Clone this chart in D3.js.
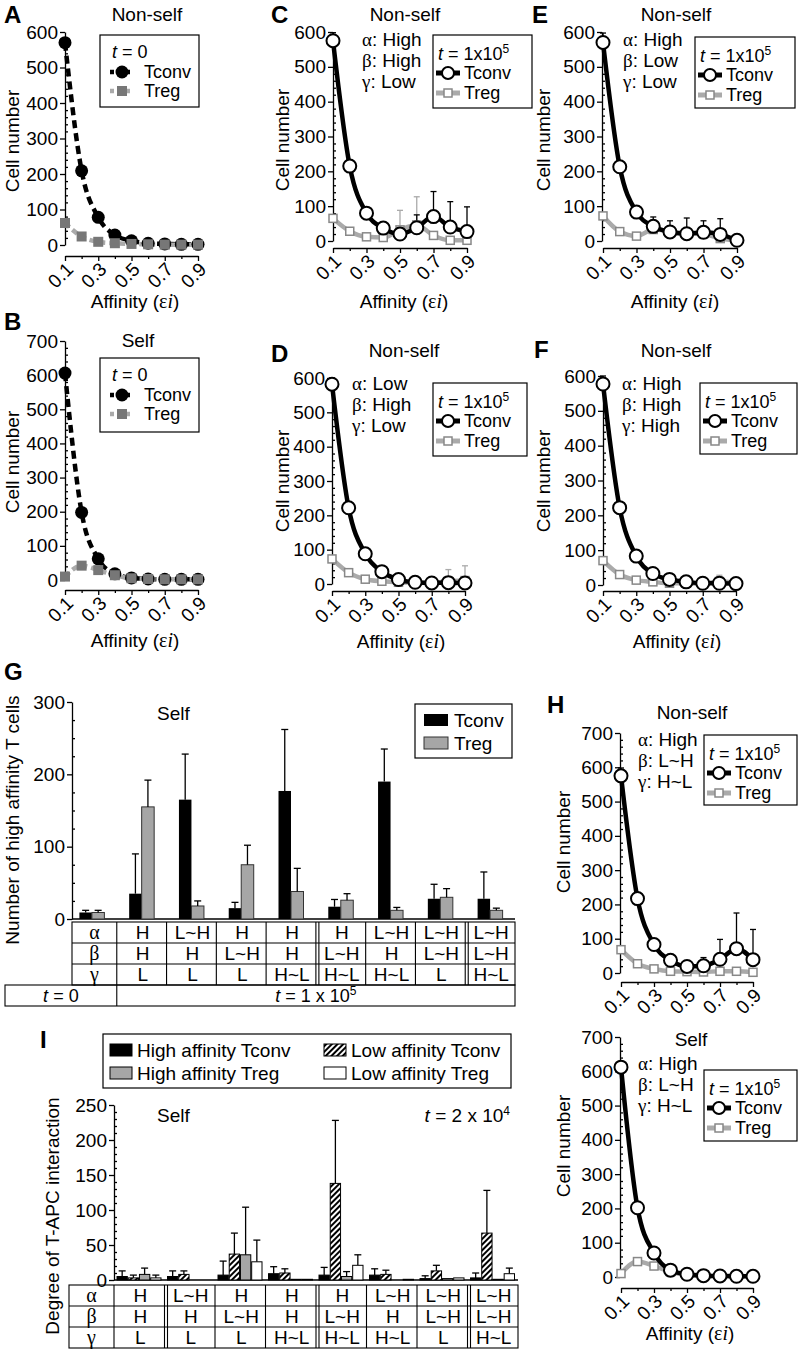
<!DOCTYPE html>
<html>
<head>
<meta charset="utf-8">
<script src="https://cdn.jsdelivr.net/npm/d3@7"></script>
<style>
body { margin: 0; background: #fff; }
svg { display: block; font-family: 'Liberation Sans', Arial, Helvetica, sans-serif; }
</style>
</head>
<body>
<svg id="fig" width="799" height="1349"></svg>
<script>
// ---------- data ----------
var affinity = [0.1, 0.2, 0.3, 0.4, 0.5, 0.6, 0.7, 0.8, 0.9];
var affinityTicks = [0.1, 0.3, 0.5, 0.7, 0.9];
var affinityMinor = [0.2, 0.4, 0.6, 0.8];

// A: t = 0, non-self
var aTconv = [570, 209, 78, 28, 12, 5, 3, 2, 2];
var aTreg = [62, 24, 9, 5, 3, 2, 1, 1, 1];
// B: t = 0, self
var bTconv = [606, 198, 62, 18, 6, 3, 2, 2, 2];
var bTreg = [10, 42, 29, 14, 5, 3, 2, 2, 2];
// C: high / high / low
var cTconv = [575, 215, 80, 37, 20, 38, 70, 40, 27];
var cTconvErr = [598, null, null, null, null, 75, 142, 113, 98];
var cTreg = [65, 28, 12, 10, 32, 46, 16, 2, 2];
var cTregErr = [null, null, null, null, 88, 127, null, null, null];
// D: low / high / low
var dTconv = [582, 222, 88, 36, 13, 5, 3, 4, 3];
var dTconvErr = [600, null, null, null, null, null, null, null, null];
var dTreg = [73, 33, 14, 8, 5, 4, 3, 8, 10];
var dTregErr = [null, null, null, null, null, null, null, 42, 53];
// E: high / low / low
var eTconv = [570, 213, 83, 42, 26, 21, 25, 19, 2];
var eTconvErr = [597, null, null, 69, 58, 66, 58, 64, null];
var eTreg = [72, 27, 14, 33, 28, 22, 20, 7, 2];
var eTregErr = [null, null, null, null, null, null, null, null, null];
// F: high / high / high
var fTconv = [577, 222, 83, 33, 16, 9, 5, 5, 4];
var fTconvErr = [600, null, null, null, null, null, null, null, null];
var fTreg = [70, 30, 14, 9, 5, 5, 4, 10, 6];
var fTregErr = [null, null, null, null, null, null, null, 28, 16];
// H: non-self and self, high / L~H / H~L
var hnTconv = [575, 217, 83, 37, 19, 21, 40, 71, 39];
var hnTconvErr = [598, null, null, null, null, 45, 98, 175, 127];
var hnTreg = [68, 27, 12, 5, 4, 3, 5, 5, 2];
var hsTconv = [612, 202, 70, 20, 8, 4, 3, 2, 2];
var hsTconvErr = [625, null, null, null, null, null, null, null, null];
var hsTreg = [10, 45, 32, 15, 6, 4, 3, 3, 2];
var noErr = [null, null, null, null, null, null, null, null, null];

// G: high affinity T cells (self)
var gTconv = [9, 35, 165, 15, 177, 17, 190, 28, 28];
var gTconvErr = [12, 90, 228, 23, 262, 27, 235, 48, 65];
var gTreg = [9, 155, 18, 75, 38, 26, 12, 30, 12];
var gTregErr = [12, 192, 25, 102, 70, 35, 16, 42, 15];

// table rows (shared by G and I)
var alphaRow = ["H", "L~H", "H", "H", "H", "L~H", "L~H", "L~H"];
var betaRow = ["H", "H", "L~H", "H", "L~H", "H", "L~H", "L~H"];
var gammaRow = ["L", "L", "L", "H~L", "H~L", "H~L", "L", "H~L"];

// I: degree of T-APC interaction
var iHiTconv = [5, 5, 7, 9, 7, 7, 2, 3];
var iHiTconvErr = [13, 13, 27, 19, 18, 16, 6, 10];
var iLoTconv = [3, 8, 37, 10, 138, 8, 13, 67];
var iLoTconvErr = [7, 13, 67, 16, 228, 14, 21, 128];
var iHiTreg = [8, 0, 36, 1, 5, 0, 2, 1];
var iHiTregErr = [17, null, 104, null, 12, null, null, null];
var iLoTreg = [3, 0, 26, 1, 21, 1, 3, 9];
var iLoTregErr = [7, null, 57, null, 36, null, null, 17];

// ---------- drawing ----------
var svg = d3.select("#fig");
var FONT = "'Liberation Sans', Arial, Helvetica, sans-serif";
var SERIF = "'Liberation Serif', 'Times New Roman', serif";
var FS = 19;
var LFS = 18;   // legend / table text
var LIGHT = "#aaaaaa";

var defs = svg.append("defs");
var hatch = defs.append("pattern")
    .attr("id", "hatch")
    .attr("patternUnits", "userSpaceOnUse")
    .attr("width", 4).attr("height", 4)
    .attr("patternTransform", "rotate(45)");
hatch.append("rect").attr("width", 4).attr("height", 4).attr("fill", "white");
hatch.append("line").attr("x1", 1).attr("y1", 0).attr("x2", 1).attr("y2", 4)
    .attr("stroke", "black").attr("stroke-width", 2);

function letter(t, x, y) {
    svg.append("text").attr("x", x).attr("y", y)
        .attr("font-size", 24).attr("font-weight", "bold").text(t);
}

function label(g, t, x, y, anchor, size) {
    return g.append("text").attr("x", x).attr("y", y)
        .attr("font-size", size || FS).attr("text-anchor", anchor || "start").text(t);
}

function styleAxis(a) {
    a.attr("font-size", FS).attr("font-family", FONT);
    a.selectAll(".domain, .tick line").attr("stroke", "black").attr("stroke-width", 1.3);
    a.selectAll("text").attr("fill", "black");
}

function affinityLabel(g, x, y) {
    var t = g.append("text").attr("x", x).attr("y", y)
        .attr("text-anchor", "middle").attr("font-size", FS);
    t.append("tspan").text("Affinity (");
    t.append("tspan").attr("font-family", SERIF).attr("font-size", FS + 1).text("ε");
    t.append("tspan").attr("font-family", SERIF).attr("font-style", "italic").attr("font-size", FS + 1).text("i");
    t.append("tspan").text(")");
}

function greekLine(g, x, y, sym, val) {
    var t = g.append("text").attr("x", x).attr("y", y).attr("font-size", FS);
    t.append("tspan").attr("font-family", SERIF).text(sym);
    t.append("tspan").text(": " + val);
}

function timeLabel(g, x, y, expText, anchor, size) {
    // expText: null -> "t = 0"
    var t = g.append("text").attr("x", x).attr("y", y).attr("font-size", size || FS)
        .attr("text-anchor", anchor || "start");
    t.append("tspan").attr("font-style", "italic").text("t");
    if (expText == null) {
        t.append("tspan").text(" = 0");
    } else {
        t.append("tspan").text(expText[0]);
        t.append("tspan").attr("font-size", 12).attr("dy", -7).text(expText[1]);
    }
}

function linePanel(p) {
    var g = svg.append("g");
    var x = d3.scaleLinear().domain([0.1, 0.9]).range([p.xL, p.xR]);
    var y = d3.scaleLinear().domain([0, p.yMax]).range([p.y0, p.yTop]);

    var major = d3.range(0, p.yMax + 1, 100);
    var minor = d3.range(20, p.yMax, 20).filter(function(v) { return v % 100 !== 0; });

    var ya = g.append("g").attr("transform", "translate(" + p.axisX + ",0)")
        .call(d3.axisLeft(y).tickValues(major).tickSize(5).tickPadding(2).tickSizeOuter(0));
    styleAxis(ya);
    var ym = g.append("g").attr("transform", "translate(" + p.axisX + ",0)")
        .call(d3.axisRight(y).tickValues(minor).tickSize(3).tickFormat("").tickSizeOuter(0));
    ym.select(".domain").remove();
    styleAxis(ym);

    var xa = g.append("g").attr("transform", "translate(0," + p.xAxisY + ")")
        .call(d3.axisBottom(x).tickValues(affinityTicks).tickSize(5).tickSizeOuter(0)
            .tickFormat(d3.format(".1f")));
    styleAxis(xa);
    xa.selectAll("text")
        .attr("x", -4).attr("y", 10).attr("dy", "0.35em")
        .attr("transform", "rotate(-45)")
        .attr("text-anchor", "end");
    var xm = g.append("g").attr("transform", "translate(0," + p.xAxisY + ")")
        .call(d3.axisBottom(x).tickValues(affinityMinor).tickSize(3).tickFormat(""));
    xm.select(".domain").remove();
    styleAxis(xm);

    // titles and labels
    label(g, p.title, p.titleX, p.titleY, "middle");
    g.append("text")
        .attr("transform", "translate(" + p.yLabel[0] + "," + p.yLabel[1] + ") rotate(-90)")
        .attr("dy", "0.35em")
        .attr("text-anchor", "middle").attr("font-size", FS).text("Cell number");
    if (p.xLabel) affinityLabel(g, p.xLabel[0], p.xLabel[1]);

    if (p.annot) {
        var syms = ["α", "β", "γ"];
        p.annot.forEach(function(v, i) {
            greekLine(g, p.annotX, p.annotY + i * 21, syms[i], v);
        });
    }

    var line = d3.line()
        .x(function(d, i) { return x(affinity[i]); })
        .y(function(d) { return y(d); })
        .curve(d3.curveMonotoneX);

    function errBars(vals, errs, color) {
        var pts = vals.map(function(v, i) { return { x: affinity[i], v: v, e: errs[i] }; })
            .filter(function(d) { return d.e != null; });
        g.append("g").selectAll("line.eb").data(pts).enter().append("line")
            .attr("x1", function(d) { return x(d.x); })
            .attr("x2", function(d) { return x(d.x); })
            .attr("y1", function(d) { return y(d.v); })
            .attr("y2", function(d) { return y(d.e); })
            .attr("stroke", color).attr("stroke-width", 1.3);
        g.append("g").selectAll("line.cap").data(pts).enter().append("line")
            .attr("x1", function(d) { return x(d.x) - 3; })
            .attr("x2", function(d) { return x(d.x) + 3; })
            .attr("y1", function(d) { return y(d.e); })
            .attr("y2", function(d) { return y(d.e); })
            .attr("stroke", color).attr("stroke-width", 1.3);
    }

    if (p.initial) {
        g.append("path").datum(p.tconv).attr("d", line)
            .attr("fill", "none").attr("stroke", "black").attr("stroke-width", 4.5)
            .attr("stroke-dasharray", "8,5");
        g.append("path").datum(p.treg).attr("d", line)
            .attr("fill", "none").attr("stroke", LIGHT).attr("stroke-width", 4.5)
            .attr("stroke-dasharray", "6,4");
        g.append("g").selectAll("circle").data(p.tconv).enter().append("circle")
            .attr("cx", function(d, i) { return x(affinity[i]); })
            .attr("cy", function(d) { return y(d); })
            .attr("r", 6.5).attr("fill", "black");
        g.append("g").selectAll("rect").data(p.treg).enter().append("rect")
            .attr("x", function(d, i) { return x(affinity[i]) - 5; })
            .attr("y", function(d) { return y(d) - 5; })
            .attr("width", 10).attr("height", 10).attr("fill", "#777");
    } else {
        errBars(p.treg, p.tregErr || noErr, LIGHT);
        errBars(p.tconv, p.tconvErr || noErr, "black");
        g.append("path").datum(p.treg).attr("d", line)
            .attr("fill", "none").attr("stroke", LIGHT).attr("stroke-width", 4.5);
        g.append("g").selectAll("rect").data(p.treg).enter().append("rect")
            .attr("x", function(d, i) { return x(affinity[i]) - 4; })
            .attr("y", function(d) { return y(d) - 4; })
            .attr("width", 8).attr("height", 8)
            .attr("fill", "white").attr("stroke", "#888").attr("stroke-width", 1.5);
        g.append("path").datum(p.tconv).attr("d", line)
            .attr("fill", "none").attr("stroke", "black").attr("stroke-width", 4.5);
        g.append("g").selectAll("circle").data(p.tconv).enter().append("circle")
            .attr("cx", function(d, i) { return x(affinity[i]); })
            .attr("cy", function(d) { return y(d); })
            .attr("r", 6.5).attr("fill", "white").attr("stroke", "black").attr("stroke-width", 2);
    }

    // legend
    var L = p.legend;
    g.append("rect").attr("x", L.x).attr("y", L.y).attr("width", L.w).attr("height", L.h)
        .attr("fill", "white").attr("stroke", "black").attr("stroke-width", 1.2);
    if (p.initial) {
        timeLabel(g, L.x + 12, L.y + 23, null, "start", LFS);
        var sx1 = L.x + 10, sx2 = L.x + 34, sc = L.x + 22;
        g.append("line").attr("x1", sx1).attr("x2", sx2).attr("y1", L.y + 37).attr("y2", L.y + 37)
            .attr("stroke", "black").attr("stroke-width", 4.5).attr("stroke-dasharray", "4,4");
        g.append("circle").attr("cx", sc).attr("cy", L.y + 37).attr("r", 6.5).attr("fill", "black");
        g.append("line").attr("x1", sx1).attr("x2", sx2).attr("y1", L.y + 56).attr("y2", L.y + 56)
            .attr("stroke", LIGHT).attr("stroke-width", 4.5).attr("stroke-dasharray", "4,4");
        g.append("rect").attr("x", sc - 5).attr("y", L.y + 51).attr("width", 10).attr("height", 10).attr("fill", "#777");
        label(g, "Tconv", L.x + 44, L.y + 43, "start", LFS);
        label(g, "Treg", L.x + 44, L.y + 62, "start", LFS);
    } else {
        timeLabel(g, L.x + 5, L.y + 25, [" = 1x10", "5"], "start", LFS);
        var tx1 = L.x + 3, tx2 = L.x + 27, tc = L.x + 15;
        g.append("line").attr("x1", tx1).attr("x2", tx2).attr("y1", L.y + 38).attr("y2", L.y + 38)
            .attr("stroke", "black").attr("stroke-width", 5);
        g.append("circle").attr("cx", tc).attr("cy", L.y + 38).attr("r", 6)
            .attr("fill", "white").attr("stroke", "black").attr("stroke-width", 2);
        g.append("line").attr("x1", tx1).attr("x2", tx2).attr("y1", L.y + 58).attr("y2", L.y + 58)
            .attr("stroke", LIGHT).attr("stroke-width", 5);
        g.append("rect").attr("x", tc - 4).attr("y", L.y + 54).attr("width", 8).attr("height", 8)
            .attr("fill", "white").attr("stroke", "#888").attr("stroke-width", 1.5);
        label(g, "Tconv", L.x + 31, L.y + 44, "start", LFS);
        label(g, "Treg", L.x + 31, L.y + 64, "start", LFS);
    }
}

var panels = [
    { title: "Non-self", titleX: 147, titleY: 21, axisX: 65, y0: 245, yTop: 32, yMax: 600,
      xL: 65, xR: 198, xAxisY: 256, xLabel: [135, 308], yLabel: [12, 141],
      tconv: aTconv, treg: aTreg, initial: true, legend: { x: 100, y: 35, w: 99, h: 72 } },
    { title: "Self", titleX: 138, titleY: 347, axisX: 65, y0: 580, yTop: 341, yMax: 700,
      xL: 65, xR: 198, xAxisY: 590, xLabel: [135, 647], yLabel: [12, 462],
      tconv: bTconv, treg: bTreg, initial: true, legend: { x: 100, y: 358, w: 99, h: 74 } },
    { title: "Non-self", titleX: 405, titleY: 21, axisX: 333, y0: 241, yTop: 32, yMax: 600,
      xL: 333, xR: 467, xAxisY: 248, xLabel: [404, 308], yLabel: [282, 140],
      tconv: cTconv, tconvErr: cTconvErr, treg: cTreg, tregErr: cTregErr,
      annot: ["High", "High", "Low"], annotX: 362, annotY: 46,
      legend: { x: 433, y: 35, w: 99, h: 73 } },
    { title: "Non-self", titleX: 404, titleY: 357, axisX: 332, y0: 584, yTop: 378, yMax: 600,
      xL: 332, xR: 465, xAxisY: 591, xLabel: [401, 648], yLabel: [282, 481],
      tconv: dTconv, tconvErr: dTconvErr, treg: dTreg, tregErr: dTregErr,
      annot: ["Low", "High", "Low"], annotX: 352, annotY: 390,
      legend: { x: 433, y: 383, w: 94, h: 73 } },
    { title: "Non-self", titleX: 676, titleY: 21, axisX: 602, y0: 241, yTop: 32, yMax: 600,
      xL: 603, xR: 737, xAxisY: 248, xLabel: [675, 308], yLabel: [543, 140],
      tconv: eTconv, tconvErr: eTconvErr, treg: eTreg, tregErr: eTregErr,
      annot: ["High", "Low", "Low"], annotX: 623, annotY: 46,
      legend: { x: 695, y: 37, w: 100, h: 71 } },
    { title: "Non-self", titleX: 676, titleY: 357, axisX: 603, y0: 585, yTop: 376, yMax: 600,
      xL: 603, xR: 736, xAxisY: 591, xLabel: [677, 648], yLabel: [543, 481],
      tconv: fTconv, tconvErr: fTconvErr, treg: fTreg, tregErr: fTregErr,
      annot: ["High", "High", "High"], annotX: 622, annotY: 390,
      legend: { x: 700, y: 383, w: 97, h: 71 } },
    { title: "Non-self", titleX: 692, titleY: 719, axisX: 620, y0: 973, yTop: 733, yMax: 700,
      xL: 621, xR: 753, xAxisY: 982, xLabel: null, yLabel: [563, 842],
      tconv: hnTconv, tconvErr: hnTconvErr, treg: hnTreg, tregErr: noErr,
      annot: ["High", "L~H", "H~L"], annotX: 638, annotY: 746,
      legend: { x: 704, y: 735, w: 93, h: 70 } },
    { title: "Self", titleX: 691, titleY: 1046, axisX: 620, y0: 1277, yTop: 1037, yMax: 700,
      xL: 621, xR: 753, xAxisY: 1288, xLabel: [690, 1340], yLabel: [563, 1146],
      tconv: hsTconv, tconvErr: hsTconvErr, treg: hsTreg, tregErr: noErr,
      annot: ["High", "L~H", "H~L"], annotX: 638, annotY: 1070,
      legend: { x: 704, y: 1070, w: 93, h: 71 } }
];
panels.forEach(linePanel);

letter("A", 4, 23);
letter("B", 4, 330);
letter("C", 271, 23);
letter("D", 271, 362);
letter("E", 532, 23);
letter("F", 534, 358);
letter("G", 4, 680);
letter("H", 547, 713);
letter("I", 40, 1048);

// ---------- tables ----------
function drawTable(g, t) {
    var edges = t.edges;               // label col right .. table right
    var xEnd = edges[edges.length - 1];
    var rows = [["α", alphaRow], ["β", betaRow], ["γ", gammaRow]];
    var nRows = rows.length + (t.timeRow ? 1 : 0);
    var yBottom = t.yTop + nRows * t.rowH;
    var yGreek = t.yTop + rows.length * t.rowH;
    var stroke = function(s) { return s.attr("stroke", "black").attr("stroke-width", 1.1); };

    stroke(g.append("rect").attr("x", t.xLeft).attr("y", t.yTop)
        .attr("width", xEnd - t.xLeft).attr("height", yGreek - t.yTop).attr("fill", "none"));
    for (var r = 1; r < rows.length; r++) {
        var yy = t.yTop + r * t.rowH;
        stroke(g.append("line").attr("x1", t.xLeft).attr("x2", xEnd).attr("y1", yy).attr("y2", yy));
    }
    edges.slice(0, -1).forEach(function(ex, i) {
        stroke(g.append("line").attr("x1", ex).attr("x2", ex).attr("y1", t.yTop).attr("y2", yGreek));
        if (t.doubles.indexOf(i) >= 0) {
            stroke(g.append("line").attr("x1", ex + 3).attr("x2", ex + 3).attr("y1", t.yTop).attr("y2", yGreek));
        }
    });
    rows.forEach(function(row, r) {
        var cy = t.yTop + r * t.rowH + t.rowH / 2 + 6.5;
        g.append("text").attr("x", (t.xLeft + edges[0]) / 2).attr("y", cy)
            .attr("text-anchor", "middle").attr("font-family", SERIF).attr("font-size", FS + 1).text(row[0]);
        row[1].forEach(function(v, c) {
            g.append("text").attr("x", (edges[c] + edges[c + 1]) / 2 + 1).attr("y", cy)
                .attr("text-anchor", "middle").attr("font-size", FS).text(v);
        });
    });
    if (t.timeRow) {
        var tl = t.timeLeft;
        stroke(g.append("rect").attr("x", tl).attr("y", yGreek)
            .attr("width", xEnd - tl).attr("height", yBottom - yGreek).attr("fill", "none"));
        stroke(g.append("line").attr("x1", edges[0]).attr("x2", edges[0]).attr("y1", yGreek).attr("y2", yBottom));
        var ty = yGreek + t.rowH / 2 + 6.5;
        timeLabel(g, (tl + edges[0]) / 2, ty, null, "middle", LFS);
        timeLabel(g, (edges[0] + xEnd) / 2, ty, [" = 1 x 10", "5"], "middle", LFS);
    }
}

function errorBars(g, xs, tops, errs, y, w) {
    var pts = tops.map(function(v, i) { return { x: xs(i), v: v, e: errs[i] }; })
        .filter(function(d) { return d.e != null; });
    g.append("g").selectAll("line").data(pts).enter().append("line")
        .attr("x1", function(d) { return d.x; }).attr("x2", function(d) { return d.x; })
        .attr("y1", function(d) { return y(d.v); }).attr("y2", function(d) { return y(d.e); })
        .attr("stroke", "black").attr("stroke-width", 1.3);
    g.append("g").selectAll("line").data(pts).enter().append("line")
        .attr("x1", function(d) { return d.x - w; }).attr("x2", function(d) { return d.x + w; })
        .attr("y1", function(d) { return y(d.e); }).attr("y2", function(d) { return y(d.e); })
        .attr("stroke", "black").attr("stroke-width", 1.3);
}

// ---------- panel G ----------
(function() {
    var g = svg.append("g");
    var cols = d3.scaleBand().domain(d3.range(9)).range([67, 515]);
    var y = d3.scaleLinear().domain([0, 300]).range([919, 702]);
    var inner = d3.scaleBand().domain(["Tconv", "Treg"]).range([-12.5, 12.5]);
    var axisX = 72;

    var ya = g.append("g").attr("transform", "translate(" + axisX + ",0)")
        .call(d3.axisLeft(y).tickValues([0, 100, 200, 300]).tickSize(5).tickPadding(2).tickSizeOuter(0));
    styleAxis(ya);
    var ym = g.append("g").attr("transform", "translate(" + axisX + ",0)")
        .call(d3.axisRight(y).tickValues([25, 50, 75, 125, 150, 175, 225, 250, 275]).tickSize(3).tickFormat("").tickSizeOuter(0));
    ym.select(".domain").remove();
    styleAxis(ym);
    g.append("line").attr("x1", axisX).attr("x2", 515).attr("y1", y(0)).attr("y2", y(0))
        .attr("stroke", "black").attr("stroke-width", 1.3);

    var centre = function(i) { return cols(i) + cols.bandwidth() / 2; };
    g.append("g").selectAll("rect").data(gTconv).enter().append("rect")
        .attr("x", function(d, i) { return centre(i) + inner("Tconv"); })
        .attr("y", function(d) { return y(d); })
        .attr("width", inner.bandwidth()).attr("height", function(d) { return y(0) - y(d); })
        .attr("fill", "black");
    g.append("g").selectAll("rect").data(gTreg).enter().append("rect")
        .attr("x", function(d, i) { return centre(i) + inner("Treg"); })
        .attr("y", function(d) { return y(d); })
        .attr("width", inner.bandwidth()).attr("height", function(d) { return y(0) - y(d); })
        .attr("fill", "#a6a6a6").attr("stroke", "#333").attr("stroke-width", 1);
    errorBars(g, function(i) { return centre(i) + inner("Tconv") + inner.bandwidth() / 2; }, gTconv, gTconvErr, y, 3.5);
    errorBars(g, function(i) { return centre(i) + inner("Treg") + inner.bandwidth() / 2; }, gTreg, gTregErr, y, 3.5);

    label(g, "Self", 157, 720);
    g.append("text").attr("transform", "translate(12,820) rotate(-90)").attr("dy", "0.35em")
        .attr("text-anchor", "middle").attr("font-size", FS).text("Number of high affinity T cells");

    // legend
    g.append("rect").attr("x", 415).attr("y", 704).attr("width", 97).attr("height", 54)
        .attr("fill", "white").attr("stroke", "black").attr("stroke-width", 1.2);
    g.append("rect").attr("x", 424).attr("y", 714).attr("width", 24).attr("height", 12).attr("fill", "black");
    g.append("rect").attr("x", 424).attr("y", 737).attr("width", 24).attr("height", 12)
        .attr("fill", "#a6a6a6").attr("stroke", "#333").attr("stroke-width", 1);
    label(g, "Tconv", 454, 727);
    label(g, "Treg", 454, 750);

    var edges = d3.range(1, 9).map(function(i) { return cols(i); }).concat([515]);
    drawTable(g, { xLeft: 72, timeLeft: 5, edges: edges, doubles: [4, 7], yTop: 922, rowH: 21, timeRow: true });
})();

// ---------- panel I ----------
(function() {
    var g = svg.append("g");
    var cols = d3.scaleBand().domain(d3.range(8)).range([114, 518]);
    var y = d3.scaleLinear().domain([0, 250]).range([1280, 1105]);
    var keys = ["hiTconv", "loTconv", "hiTreg", "loTreg"];
    var inner = d3.scaleBand().domain(keys).range([3, 47]).paddingInner(0.08);
    var axisX = 114;

    var ya = g.append("g").attr("transform", "translate(" + axisX + ",0)")
        .call(d3.axisLeft(y).tickValues([0, 50, 100, 150, 200, 250]).tickSize(5).tickPadding(2).tickSizeOuter(0));
    styleAxis(ya);
    var ym = g.append("g").attr("transform", "translate(" + axisX + ",0)")
        .call(d3.axisRight(y).tickValues(d3.range(10, 250, 10).filter(function(v) { return v % 50 !== 0; }))
            .tickSize(3).tickFormat("").tickSizeOuter(0));
    ym.select(".domain").remove();
    styleAxis(ym);
    g.append("line").attr("x1", axisX).attr("x2", 518).attr("y1", y(0)).attr("y2", y(0))
        .attr("stroke", "black").attr("stroke-width", 1.3);

    var series = [
        { key: "hiTconv", v: iHiTconv, e: iHiTconvErr, fill: "black" },
        { key: "loTconv", v: iLoTconv, e: iLoTconvErr, fill: "url(#hatch)" },
        { key: "hiTreg", v: iHiTreg, e: iHiTregErr, fill: "#a6a6a6" },
        { key: "loTreg", v: iLoTreg, e: iLoTregErr, fill: "white" }
    ];
    series.forEach(function(s) {
        errorBars(g, function(i) { return cols(i) + inner(s.key) + inner.bandwidth() / 2; }, s.v, s.e, y, 3.5);
    });
    series.forEach(function(s) {
        g.append("g").selectAll("rect").data(s.v).enter().append("rect")
            .attr("x", function(d, i) { return cols(i) + inner(s.key); })
            .attr("y", function(d) { return y(d); })
            .attr("width", inner.bandwidth()).attr("height", function(d) { return y(0) - y(d); })
            .attr("fill", s.fill).attr("stroke", "black").attr("stroke-width", 1);
    });

    label(g, "Self", 157, 1122);
    timeLabel(g, 510, 1122, [" = 2 x 10", "4"], "end");
    g.append("text").attr("transform", "translate(52,1216) rotate(-90)").attr("dy", "0.35em")
        .attr("text-anchor", "middle").attr("font-size", FS).text("Degree of T-APC interaction");

    // legend
    g.append("rect").attr("x", 103).attr("y", 1034).attr("width", 408).attr("height", 54)
        .attr("fill", "white").attr("stroke", "black").attr("stroke-width", 1.2);
    var items = [
        { t: "High affinity Tconv", fill: "black", x: 110, y: 1050 },
        { t: "High affinity Treg", fill: "#a6a6a6", x: 110, y: 1073 },
        { t: "Low affinity Tconv", fill: "url(#hatch)", x: 324, y: 1050 },
        { t: "Low affinity Treg", fill: "white", x: 324, y: 1073 }
    ];
    g.append("g").selectAll("rect").data(items).enter().append("rect")
        .attr("x", function(d) { return d.x; }).attr("y", function(d) { return d.y - 6; })
        .attr("width", 22).attr("height", 12)
        .attr("fill", function(d) { return d.fill; }).attr("stroke", "black").attr("stroke-width", 1);
    g.append("g").selectAll("text").data(items).enter().append("text")
        .attr("x", function(d) { return d.x + 27; }).attr("y", function(d) { return d.y + 7; })
        .attr("font-size", FS).text(function(d) { return d.t; });

    var edges = [114].concat(d3.range(1, 8).map(function(i) { return cols(i); })).concat([518]);
    drawTable(g, { xLeft: 69, edges: edges, doubles: [1, 4, 7], yTop: 1285, rowH: 21, timeRow: false });
})();
</script>
</body>
</html>
